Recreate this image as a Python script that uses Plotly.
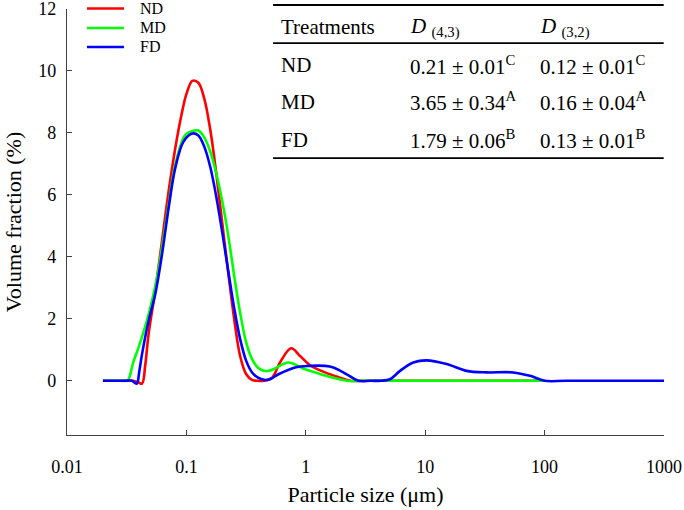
import plotly.graph_objects as go

# ---- data ----
nd_x = [0.020, 0.030, 0.0359, 0.0395, 0.0425, 0.0452, 0.0482, 0.0548, 0.0624, 0.0709, 0.0806, 0.0917,
        0.1000, 0.1122, 0.1259, 0.1413, 0.1585, 0.1778, 0.1995, 0.2239, 0.2512, 0.2818, 0.3162, 0.3548,
        0.3981, 0.4467, 0.5224, 0.6094, 0.7534, 0.8958, 1.086, 1.451, 1.936, 2.349, 3.0, 10, 100]
nd_y = [0, 0, 0, -0.05, -0.09, 0.5, 1.5, 2.9, 4.5, 6.1, 7.5, 8.65,
        9.25, 9.68, 9.62, 9.1, 8.1, 6.7, 5.1, 3.5, 2.0, 0.8, 0.22, 0.03,
        0, 0, 0.1, 0.6, 1.05, 0.8, 0.5, 0.27, 0.1, 0, 0, 0, 0]

md_x = [0.020, 0.028, 0.0313, 0.0328, 0.0359, 0.0397, 0.0482, 0.0566, 0.0624, 0.0709, 0.0806, 0.0977,
        0.1122, 0.1259, 0.1413, 0.1585, 0.1778, 0.1995, 0.2239, 0.2512, 0.2818, 0.3162, 0.3548, 0.3981,
        0.4467, 0.5012, 0.5537, 0.7150, 0.9865, 1.318, 1.758, 2.203, 3.0, 10, 100]
md_y = [0, 0, 0, 0.05, 0.6, 1.07, 2.14, 3.32, 4.29, 5.68, 6.97, 7.93,
        8.06, 8.08, 7.85, 7.4, 6.7, 5.8, 4.7, 3.4, 2.2, 1.25, 0.7, 0.42,
        0.32, 0.33, 0.4, 0.59, 0.37, 0.22, 0.08, 0, 0, 0, 0]

fd_x = [0.020, 0.030, 0.0350, 0.0366, 0.0385, 0.0403, 0.0425, 0.0482, 0.0548, 0.0624, 0.0709, 0.0806,
        0.0946, 0.1122, 0.1259, 0.1413, 0.1585, 0.1778, 0.1995, 0.2239, 0.2512, 0.2818, 0.3162, 0.3548,
        0.3981, 0.4467, 0.5012, 0.5901, 0.8137, 1.086, 1.451, 1.702, 2.203, 2.755, 3.5, 4.3,
        5.075, 6.153, 7.954, 10.29, 15.13, 22.25, 32.71, 54.60, 75.34, 100, 150, 400, 1000]
fd_y = [0, 0, 0, -0.05, -0.09, 0.3, 0.86, 1.93, 2.79, 4.07, 5.57, 6.86,
        7.72, 7.98, 7.92, 7.55, 6.9, 5.95, 4.8, 3.55, 2.35, 1.35, 0.65, 0.27,
        0.1, 0.03, 0.05, 0.21, 0.43, 0.48, 0.48, 0.43, 0.21, 0, 0, 0,
        0.05, 0.32, 0.59, 0.66, 0.54, 0.32, 0.27, 0.27, 0.16, 0, 0, 0, 0]

series_names = ["ND", "MD", "FD"]
series_colors = ["#FF0000", "#00FF00", "#0000FF"]

x_tick_vals = [0.01, 0.1, 1, 10, 100, 1000]
x_tick_text = ["0.01", "0.1", "1", "10", "100", "1000"]
y_tick_vals = [0, 2, 4, 6, 8, 10, 12]

table_header = ["Treatments", "<i>D</i> <sub>(4,3)</sub>", "<i>D</i> <sub>(3,2)</sub>"]
table_rows = [
    ["ND", "0.21 ± 0.01<sup>C</sup>", "0.12 ± 0.01<sup>C</sup>"],
    ["MD", "3.65 ± 0.34<sup>A</sup>", "0.16 ± 0.04<sup>A</sup>"],
    ["FD", "1.79 ± 0.06<sup>B</sup>", "0.13 ± 0.01<sup>B</sup>"],
]

FONT = "Liberation Serif"

fig = go.Figure()
for xs, ys, name, col in zip([nd_x, md_x, fd_x], [nd_y, md_y, fd_y], series_names, series_colors):
    fig.add_trace(go.Scatter(x=xs, y=ys, name=name, mode="lines", showlegend=False,
                             line=dict(color=col, width=2.6, shape="spline", smoothing=1.0)))

axis_common = dict(showline=True, linecolor="#404040", linewidth=1.3, ticks="inside", ticklen=5,
                   tickcolor="#404040", tickwidth=1.3, showgrid=False, zeroline=False, automargin=False,
                   ticklabeloverflow="allow",
                   tickfont=dict(family=FONT, size=18, color="black"))

fig.update_xaxes(type="log", range=[-2, 3], tickvals=x_tick_vals, ticktext=x_tick_text,
                 ticklabelstandoff=15,
                 title=dict(text="Particle size (μm)", font=dict(family=FONT, size=22, color="black"),
                            standoff=10),
                 **axis_common)
fig.update_yaxes(range=[-1.75, 12], tickvals=y_tick_vals, ticklabelstandoff=6,
                 title=dict(text="Volume fraction (%)", font=dict(family=FONT, size=22, color="black"),
                            standoff=10),
                 **axis_common)

annotations = []
shapes = []

# legend (drawn as lines + text in paper coordinates)
leg_y = [1.0012, 0.9554, 0.9108]
for name, col, yy in zip(series_names, series_colors, leg_y):
    shapes.append(dict(type="line", xref="paper", yref="paper", x0=0.0335, x1=0.0955, y0=yy, y1=yy,
                       line=dict(color=col, width=2.6)))
    annotations.append(dict(x=0.1189, y=yy, xref="paper", yref="paper", text=name,
                            xanchor="left", yanchor="middle", showarrow=False,
                            font=dict(family=FONT, size=16, color="black")))

# table
col_x = [0.3553, 0.5711, 0.7887]
row_y = [0.9566, 0.8685, 0.7817, 0.6925]
for j, t in enumerate(table_header):
    annotations.append(dict(x=col_x[j], y=row_y[0], xref="paper", yref="paper", text=t,
                            xanchor="left", yanchor="middle", showarrow=False,
                            font=dict(family=FONT, size=21, color="black")))
for i, row in enumerate(table_rows):
    for j, t in enumerate(row):
        annotations.append(dict(x=col_x[j], y=row_y[i + 1], xref="paper", yref="paper", text=t,
                                xanchor="left", yanchor="middle", showarrow=False,
                                font=dict(family=FONT, size=21, color="black")))
for yy in [1.0094, 0.920, 0.650]:
    shapes.append(dict(type="line", xref="paper", yref="paper", x0=0.3452, x1=0.9995, y0=yy, y1=yy,
                       line=dict(color="black", width=1.8)))

fig.update_layout(
    width=684, height=510,
    margin=dict(l=67, r=20, t=9, b=75, autoexpand=False),
    paper_bgcolor="white", plot_bgcolor="white",
    annotations=annotations, shapes=shapes,
    showlegend=False,
    font=dict(family=FONT),
)

fig.write_html("out.html", config={"displayModeBar": False},
               post_script="document.body.style.margin='0px';")
